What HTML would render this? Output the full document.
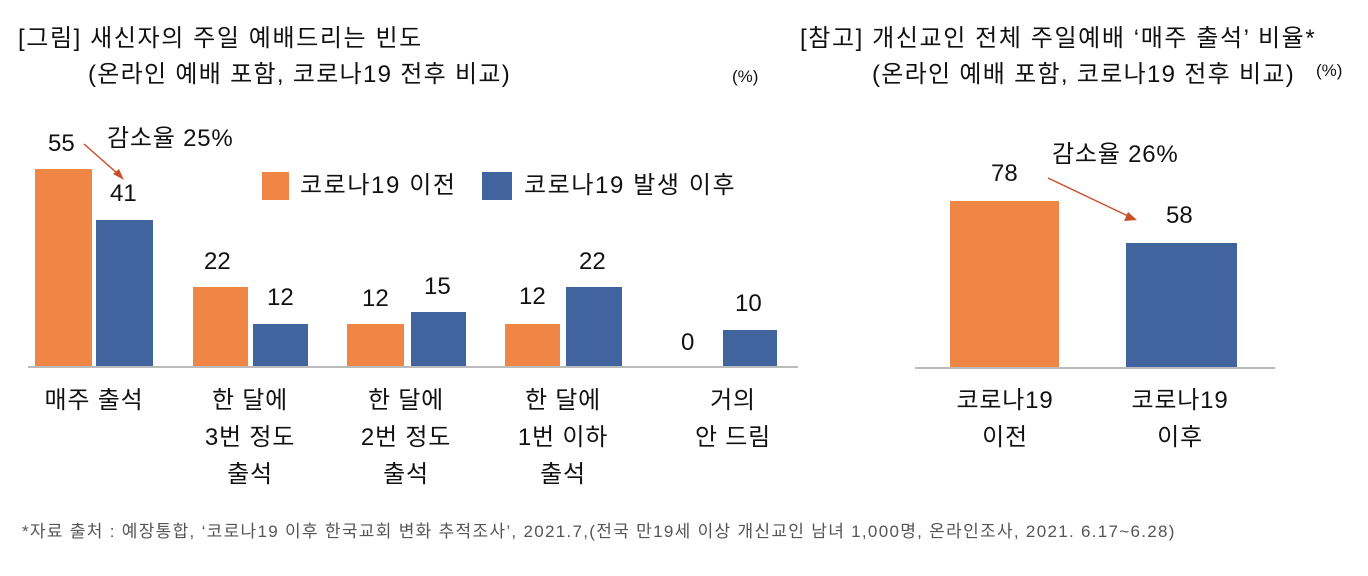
<!DOCTYPE html>
<html><head><meta charset="utf-8"><style>
body{margin:0;width:1368px;height:576px;background:#fff;position:relative;overflow:hidden;font-family:"Liberation Sans","Noto Sans CJK KR",sans-serif;color:#111}
.t{position:absolute;white-space:nowrap;font-size:24px;line-height:1;letter-spacing:0.8px}
.c{position:absolute;text-align:center;font-size:24px;line-height:37px;width:180px;letter-spacing:0.8px}
.n{letter-spacing:0}
.b{position:absolute}
.o{background:#f08646}.u{background:#41649e}
</style></head><body>
<div class="t" style="left:18px;top:27px;letter-spacing:1.6px">[그림] 새신자의 주일 예배드리는 빈도</div>
<div class="t" style="left:88px;top:63px;letter-spacing:1.3px">(온라인 예배 포함, 코로나19 전후 비교)</div>
<div class="t" style="left:732px;top:68px;font-size:17px;letter-spacing:0">(%)</div>
<div class="t" style="left:800px;top:27px;letter-spacing:1.6px">[참고] 개신교인 전체 주일예배 ‘매주 출석’ 비율*</div>
<div class="t" style="left:872px;top:63px;letter-spacing:1.3px">(온라인 예배 포함, 코로나19 전후 비교)</div>
<div class="t" style="left:1316px;top:62px;font-size:17px;letter-spacing:0">(%)</div>

<div class="b o" style="left:35px;top:169px;width:57px;height:198px"></div>
<div class="b u" style="left:96px;top:220px;width:57px;height:147px"></div>
<div class="b o" style="left:193px;top:287px;width:55px;height:80px"></div>
<div class="b u" style="left:253px;top:324px;width:55px;height:43px"></div>
<div class="b o" style="left:347px;top:324px;width:57px;height:43px"></div>
<div class="b u" style="left:411px;top:312px;width:55px;height:55px"></div>
<div class="b o" style="left:505px;top:324px;width:55px;height:43px"></div>
<div class="b u" style="left:566px;top:287px;width:56px;height:80px"></div>
<div class="b u" style="left:723px;top:330px;width:54px;height:37px"></div>
<div class="b" style="left:28px;top:366px;width:770px;height:2px;background:#bbb"></div>

<div class="t n" style="left:48px;top:132px">55</div>
<div class="t" style="left:107px;top:127px">감소율 25%</div>
<div class="t n" style="left:110px;top:182px">41</div>
<div class="t n" style="left:204px;top:250px">22</div>
<div class="t n" style="left:267px;top:286px">12</div>
<div class="t n" style="left:362px;top:287px">12</div>
<div class="t n" style="left:424px;top:275px">15</div>
<div class="t n" style="left:519px;top:285px">12</div>
<div class="t n" style="left:579px;top:250px">22</div>
<div class="t n" style="left:681px;top:331px">0</div>
<div class="t n" style="left:735px;top:292px">10</div>

<svg class="b" style="left:0;top:0" width="1368" height="576">
<line x1="84" y1="144" x2="118" y2="174" stroke="#c8502a" stroke-width="1.5"/>
<polygon points="124,180 113,174 119,169" fill="#c8502a"/>
<line x1="1048" y1="178" x2="1128" y2="216" stroke="#c8502a" stroke-width="1.5"/>
<polygon points="1137,220 1124,221 1128,212" fill="#c8502a"/>
</svg>

<div class="b o" style="left:262px;top:172px;width:27px;height:28px"></div>
<div class="t" style="left:300px;top:174px;letter-spacing:1.6px">코로나19 이전</div>
<div class="b u" style="left:482px;top:172px;width:30px;height:28px"></div>
<div class="t" style="left:524px;top:174px;letter-spacing:1.6px">코로나19 발생 이후</div>

<div class="c" style="left:4px;top:382px">매주 출석</div>
<div class="c" style="left:160px;top:382px">한 달에<br>3번 정도<br>출석</div>
<div class="c" style="left:316px;top:382px">한 달에<br>2번 정도<br>출석</div>
<div class="c" style="left:473px;top:382px">한 달에<br>1번 이하<br>출석</div>
<div class="c" style="left:643px;top:382px">거의<br>안 드림</div>

<div class="b o" style="left:950px;top:201px;width:109px;height:167px"></div>
<div class="b u" style="left:1126px;top:243px;width:111px;height:125px"></div>
<div class="b" style="left:915px;top:367px;width:360px;height:2px;background:#bbb"></div>
<div class="t n" style="left:991px;top:162px">78</div>
<div class="t n" style="left:1166px;top:204px">58</div>
<div class="t" style="left:1052px;top:143px">감소율 26%</div>
<div class="c" style="left:915px;top:382px">코로나19<br>이전</div>
<div class="c" style="left:1090px;top:382px">코로나19<br>이후</div>

<div class="t" style="left:22px;top:523px;font-size:17px;color:#555;letter-spacing:1.3px">*자료 출처 : 예장통합, ‘코로나19 이후 한국교회 변화 추적조사’, 2021.7,(전국 만19세 이상 개신교인 남녀 1,000명, 온라인조사, 2021. 6.17~6.28)</div>
</body></html>
